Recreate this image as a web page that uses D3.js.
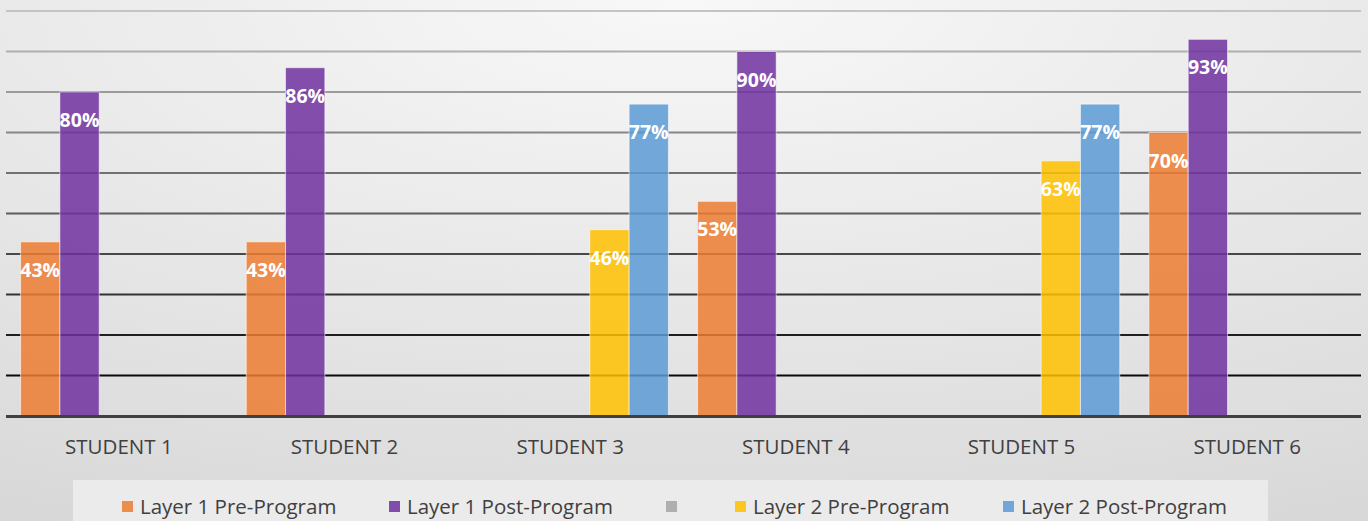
<!DOCTYPE html>
<html><head><meta charset="utf-8">
<script src="https://cdn.jsdelivr.net/npm/d3@7"></script>
<style>html,body{margin:0;padding:0;overflow:hidden;background:#e4e4e4}</style>
</head><body>
<svg id="chart" width="1368" height="521"></svg>
<script>
const categories = ["STUDENT 1","STUDENT 2","STUDENT 3","STUDENT 4","STUDENT 5","STUDENT 6"];
const seriesNames = ["Layer 1 Pre-Program","Layer 1 Post-Program","","Layer 2 Pre-Program","Layer 2 Post-Program"];
const seriesColors = ["#ED7D31","#7030A0","#A5A5A5","#FFC000","#5B9BD5"];
const layer1Pre  = [43, 43, null, 53, null, 70];
const layer1Post = [80, 86, null, 90, null, 93];
const blankSeries = [null, null, null, null, null, null];
const layer2Pre  = [null, null, 46, null, 63, null];
const layer2Post = [null, null, 77, null, 77, null];
const yTicks = [0,10,20,30,40,50,60,70,80,90,100];

const seriesValues = [layer1Pre, layer1Post, blankSeries, layer2Pre, layer2Post];
const W = 1368, H = 521;
const svg = d3.select("#chart");
const defs = svg.append("defs");
const rg = defs.append("radialGradient").attr("id","bg").attr("cx","50%").attr("cy","0%").attr("r","110%")
  .attr("gradientUnits","objectBoundingBox");
rg.append("stop").attr("offset","0%").attr("stop-color","#f8f8f8");
rg.append("stop").attr("offset","100%").attr("stop-color","#d8d8d8");
svg.append("rect").attr("width",W).attr("height",H).attr("fill","url(#bg)");

const x0 = d3.scaleBand().domain(categories).range([6, 1360]).padding(0);
const x1 = d3.scaleBand().domain(d3.range(seriesNames.length)).range([0, x0.bandwidth()]).paddingInner(0).paddingOuter(0.371);
const y = d3.scaleLinear().domain([0,100]).range([416, 11]);

const gridColor = d3.scaleLinear().domain([100, 10]).range(["#c4c4c4", "#0a0a0a"]).interpolate(d3.interpolateRgb);

// gridlines
svg.append("g").selectAll("line").data(yTicks.filter(t => t > 0)).join("line")
  .attr("x1", 6).attr("x2", 1361)
  .attr("y1", d => y(d)).attr("y2", d => y(d))
  .attr("stroke", d => gridColor(d)).attr("stroke-width", 2);

// bars
const groups = svg.append("g").selectAll("g").data(categories).join("g")
  .attr("transform", c => `translate(${x0(c)},0)`);
const barData = (c, ci) => seriesValues.map((arr, si) => ({si, v: arr[ci]})).filter(d => d.v != null);
groups.each(function(c, ci) {
  const g = d3.select(this);
  const data = barData(c, ci);
  g.selectAll("rect").data(data).join("rect")
    .attr("x", d => x1(d.si)).attr("width", x1.bandwidth())
    .attr("y", d => y(d.v)).attr("height", d => y(0) - y(d.v))
    .attr("fill", d => seriesColors[d.si]).attr("fill-opacity", 0.85)
    .attr("stroke", "rgba(255,255,255,0.55)").attr("stroke-width", 1);
  g.selectAll("text").data(data).join("text")
    .attr("x", d => x1(d.si) + x1.bandwidth()/2)
    .attr("y", d => y(d.v) + 35)
    .attr("text-anchor", "middle")
    .attr("font-family", "'Open Sans', sans-serif").attr("font-weight", "bold")
    .attr("font-size", 19.5).attr("fill", "#ffffff")
    .text(d => d.v + "%");
});

// baseline
svg.append("line").attr("x1", 6).attr("x2", 1361).attr("y1", y(0)+0.5).attr("y2", y(0)+0.5)
  .attr("stroke", "#404040").attr("stroke-width", 3);

// x axis labels
const xAxis = d3.axisBottom(x0).tickSize(0).tickPadding(0);
const xg = svg.append("g").attr("transform", `translate(0,${y(0)})`).call(xAxis);
xg.select(".domain").remove();
xg.selectAll("text").attr("y", 38).attr("dy", 0)
  .attr("font-family", "'Open Sans', sans-serif").attr("font-size", 20.5).attr("fill", "#404040");

// legend
svg.append("rect").attr("x", 73).attr("y", 480).attr("width", 1195).attr("height", 45).attr("fill", "#ebebeb");
const legendX = [122, 389, 666, 735, 1003];
const lg = svg.append("g").selectAll("g").data(seriesNames).join("g")
  .attr("transform", (d, i) => `translate(${legendX[i]},0)`);
lg.append("rect").attr("x", 0).attr("y", 501).attr("width", 11).attr("height", 11)
  .attr("fill", (d, i) => seriesColors[i]).attr("fill-opacity", 0.85);
lg.append("text").attr("x", 18).attr("y", 514)
  .attr("font-family", "'Open Sans', sans-serif").attr("font-size", 20.5).attr("fill", "#404040")
  .text(d => d);
</script>
</body></html>
